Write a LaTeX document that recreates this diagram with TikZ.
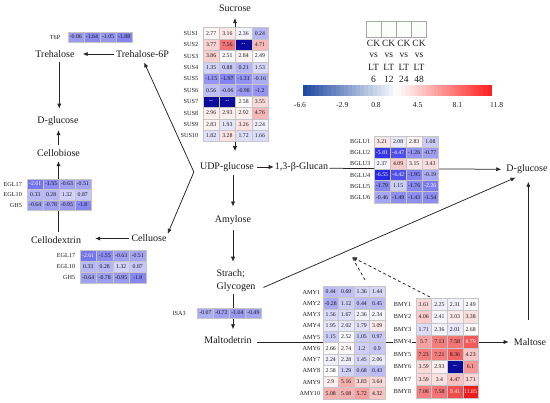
\documentclass[tikz,border=0pt]{standalone}
\usepackage{fontspec}
\setmainfont{Liberation Serif}
\usetikzlibrary{arrows.meta}
\definecolor{hblue}{HTML}{2626E6}
\definecolor{hred}{HTML}{EC1C1C}
\definecolor{hdark}{HTML}{0C0C9C}
\definecolor{lblue}{HTML}{1A46A0}
\definecolor{lred}{HTML}{FF1E1E}
\definecolor{arrc}{HTML}{2B2222}
\definecolor{txt}{HTML}{1A1A1A}
\newcounter{hcnt}
\def\hdash{--}
\newcommand\hcell[5]{%
  \stepcounter{hcnt}%
  \edef\hval{#5}%
  \ifx\hval\hdash
    \node[cellbox, fill=hdark, text=white, minimum width=#3, minimum height=#4] (c\thehcnt) at ({#1},{#2}) {{-}{-}};%
  \else
    \pgfmathsetmacro\hv{#5}%
    \pgfmathsetmacro\tb{100*pow(max(0.001,min(1,(2.6-\hv)/9.2)),0.8)}%
    \pgfmathsetmacro\tr{100*pow(max(0.001,min(1,(\hv-2.6)/9.2)),0.8)}%
    \ifdim\hv pt<2.6pt \colorlet{cc}{hblue!\tb!white}\else\colorlet{cc}{hred!\tr!white}\fi
    \def\tc{txt}%
    \ifdim\hv pt<-2.2pt \def\tc{white}\fi
    \ifdim\hv pt>8.5pt \def\tc{white}\fi
    \node[cellbox, fill=cc, text=\tc, minimum width=#3, minimum height=#4] (c\thehcnt) at ({#1},{#2}) {#5};%
  \fi}
\newcommand\hrow[6]{%
  \stepcounter{hcnt}%
  \node[hlab] (l\thehcnt) at ({#1-\lgap},{#2}) {#5};%
  \foreach \vv [count=\ii] in {#6} {\hcell{#1+(\ii-0.5)*#3}{#2}{#3}{#4}{\vv}}%
}
\begin{document}
\begin{tikzpicture}[x=1pt,y=-1pt,
  lbl/.style={font=\fontsize{10}{12}\selectfont, inner sep=1pt, text=txt},
  arr/.style={-{Latex[length=5pt,width=4.2pt]}, line width=0.75pt, draw=arrc},
  cellbox/.style={draw=gray!45, line width=0.3pt, inner sep=0pt, font=\fontsize{5.8}{6}\selectfont},
  hlab/.style={font=\fontsize{6.2}{7}\selectfont, inner sep=0.6pt, anchor=east, text=txt, fill=white},
  legtxt/.style={font=\fontsize{9.5}{11}\selectfont, inner sep=0pt, text=txt},
  ticktxt/.style={font=\fontsize{7.6}{9}\selectfont, inner sep=0pt, text=txt},
]
\fill[white] (0,0) rectangle (550,403);
\useasboundingbox (0,0) rectangle (550,403);

% ---------- main nodes ----------
\node[lbl] (sucrose) at (235,8) {Sucrose};
\node[lbl] (treh) at (55,54) {Trehalose};
\node[lbl] (t6p) at (142.5,54) {Trehalose-6P};
\node[lbl] (dgl1) at (58,121.5) {D-glucose};
\node[lbl] (cellob) at (58.5,153) {Cellobiose};
\node[lbl] (celludex) at (56,240) {Cellodextrin};
\node[lbl] (cellu) at (149,238.5) {Celluose};
\node[lbl] (udp) at (227,167) {UDP-glucose};
\node[lbl] (glucan) at (301.5,167) {1,3-β-Glucan};
\node[lbl] (amylose) at (233,220) {Amylose};
\node[lbl, align=left] (starch) at (236,281) {Strach;\\[1pt]Glycogen};
\node[lbl] (malto) at (228,340) {Maltodetrin};
\node[lbl] (dgl2) at (527,169) {D-glucose};
\node[lbl] (maltose) at (530,342) {Maltose};

\coordinate (vtx) at ([shift={(-5,5)}]udp.west);
\coordinate (apex) at (352,257);

% ---------- connectors ----------
\draw[arr, shorten <=1pt, shorten >=7pt] (t6p.west) -- (treh.east);
\draw[arr, shorten <=3pt, shorten >=7pt] ([xshift=4.3pt]treh.south) -- ([xshift=1.3pt]dgl1.north);
\draw[arr, shorten <=3.5pt, shorten >=3pt] (cellob.north) -- (cellob.north |- dgl1.south);
\draw[arr, shorten <=3.5pt, shorten >=3.5pt] (celludex.north -| cellob.north) -- (cellob.south);
\draw[arr, shorten <=1pt, shorten >=13pt] (cellu.west) -- (cellu.west -| celludex.east);
\draw[arr, shorten >=4pt] (vtx) -- (t6p.south);
\draw[arr] (vtx) -- (cellu.north east);
\draw[arr, shorten <=2pt] (udp.east) -- (glucan.west);
\draw[arr, shorten >=4pt] ([yshift=-1.3pt]glucan.east) -- ([yshift=-0.3pt]dgl2.west);
\draw[arr, {Latex[length=5pt,width=4.2pt]}-{Latex[length=5pt,width=4.2pt]}, shorten <=5.5pt, shorten >=10pt] (sucrose.south) -- (sucrose.south |- udp.north);
\draw[arr, shorten <=2.4pt, shorten >=7.7pt] (udp.south -| amylose.north) -- (amylose.north);
\draw[arr, shorten <=4.4pt, shorten >=7pt] (amylose.south) -- (amylose.south |- starch.north);
\draw[arr, shorten <=1pt, shorten >=6pt] (starch.south -| amylose.south) -- (malto.north -| amylose.south);
\draw[arr, shorten <=2pt, shorten >=7pt] ([shift={(5,-5)}]starch.south east) -- ([xshift=-5pt]dgl2.south);
\draw[arr, shorten <=4pt, shorten >=4pt] ([yshift=-2pt]malto.east) -- (maltose.west);
\draw[arr, shorten <=17.5pt, shorten >=7pt] ([xshift=-1.7pt]maltose.north) -- ([xshift=-1.7pt]maltose.north |- dgl2.south);
\draw[arrc, line width=0.75pt, dash pattern=on 3pt off 2.5pt] (365,280) -- (apex);
\draw[arr, dash pattern=on 3pt off 2.5pt] (430,297) -- (apex);

% ---------- heatmaps ----------
\def\lgap{6.7}
\hrow{67.7}{37}{16.15}{10.6}{T6P}{-0.86,-1.64,-1.05,-1.88}

\def\lgap{4}
\hrow{203}{33.3}{16.25}{11.4}{SUS1}{2.77,3.16,2.36,0.24}
\hrow{203}{44.7}{16.25}{11.4}{SUS2}{3.77,7.56,--,4.71}
\hrow{203}{56.1}{16.25}{11.4}{SUS3}{3.86,2.51,2.84,2.49}
\hrow{203}{67.5}{16.25}{11.4}{SUS4}{1.35,0.88,0.21,1.53}
\hrow{203}{78.9}{16.25}{11.4}{SUS5}{-1.15,-1.97,-1.31,-0.16}
\hrow{203}{90.3}{16.25}{11.4}{SUS6}{0.56,-0.06,-0.98,-1.2}
\hrow{203}{101.7}{16.25}{11.4}{SUS7}{--,--,2.58,3.55}
\hrow{203}{113.1}{16.25}{11.4}{SUS8}{2.96,2.93,2.92,4.76}
\hrow{203}{124.5}{16.25}{11.4}{SUS9}{2.83,1.93,3.26,2.24}
\hrow{203}{135.9}{16.25}{11.4}{SUS10}{1.82,3.28,1.72,1.66}

\def\lgap{3}
\hrow{374}{141.7}{16.1}{11.1}{BGLU1}{3.21,2.08,2.83,1.08}
\hrow{374}{152.8}{16.1}{11.1}{BGLU2}{-5.81,-4.47,-1.26,-0.77}
\hrow{374}{163.9}{16.1}{11.1}{BGLU3}{2.37,4.09,3.15,3.43}
\hrow{374}{175.0}{16.1}{11.1}{BGLU4}{-6.55,-4.42,-1.95,-0.19}
\hrow{374}{186.1}{16.1}{11.1}{BGLU5}{-1.79,1.15,-1.76,-2.26}
\hrow{374}{197.2}{16.1}{11.1}{BGLU6}{-0.46,-1.49,-1.43,-1.54}

\def\lgap{4.6}
\hrow{27.3}{184}{15.85}{10.5}{EGL17}{-2.61,-1.55,-0.63,-0.51}
\hrow{27.3}{194.5}{15.85}{10.5}{EGL10}{0.33,0.28,1.32,0.87}
\hrow{27.3}{205}{15.85}{10.5}{GH5}{-0.64,-0.78,-0.95,-1.8}

\def\lgap{4}
\hrow{80}{255.5}{16.5}{11}{EGL17}{-2.61,-1.55,-0.63,-0.51}
\hrow{80}{266.5}{16.5}{11}{EGL10}{0.33,0.28,1.32,0.87}
\hrow{80}{277.5}{16.5}{11}{GH5}{-0.64,-0.78,-0.95,-1.8}

\def\lgap{11}
\hrow{197.5}{313}{16}{10.5}{ISA3}{-0.07,-0.72,-1.04,-0.49}

\def\lgap{2}
\hrow{323}{292}{15.5}{11.25}{AMY1}{0.44,0.69,1.36,1.44}
\hrow{323}{303.25}{15.5}{11.25}{AMY2}{-0.28,1.12,0.44,0.45}
\hrow{323}{314.5}{15.5}{11.25}{AMY3}{1.56,1.67,2.36,2.34}
\hrow{323}{325.75}{15.5}{11.25}{AMY4}{1.95,2.02,1.79,3.09}
\hrow{323}{337}{15.5}{11.25}{AMY5}{1.15,2.52,1.05,0.97}
\hrow{323}{348.25}{15.5}{11.25}{AMY6}{2.66,2.74,1.2,0.9}
\hrow{323}{359.5}{15.5}{11.25}{AMY7}{2.24,2.28,1.45,2.06}
\hrow{323}{370.75}{15.5}{11.25}{AMY8}{2.58,1.29,0.68,0.43}
\hrow{323}{382}{15.5}{11.25}{AMY9}{2.9,5.16,3.83,3.64}
\hrow{323}{393.25}{15.5}{11.25}{AMY10}{5.08,5.08,5.72,4.32}

\def\lgap{4}
\hrow{416}{304.3}{15.6}{12.5}{BMY1}{3.61,2.25,2.31,2.49}
\hrow{416}{316.8}{15.6}{12.5}{BMY2}{4.06,2.41,3.03,3.38}
\hrow{416}{329.3}{15.6}{12.5}{BMY3}{1.71,2.36,2.01,2.68}
\hrow{416}{341.8}{15.6}{12.5}{BMY4}{5.7,7.13,7.58,8.79}
\hrow{416}{354.3}{15.6}{12.5}{BMY5}{7.23,7.21,8.36,4.23}
\hrow{416}{366.8}{15.6}{12.5}{BMY6}{3.59,2.93,--,6.1}
\hrow{416}{379.3}{15.6}{12.5}{BMY7}{3.59,3.4,4.47,3.71}
\hrow{416}{391.8}{15.6}{12.5}{BMY8}{7.06,7.58,9.41,11.85}

% ---------- legend ----------
\foreach \k [count=\j] in {6,12,24,48} {
  \node[draw=gray!70, fill=green!2, line width=0.5pt, minimum width=15.2, minimum height=15.6, inner sep=0pt] (lgbox\j) at ({366+(\j-0.5)*15.17},29.5) {};
  \node[legtxt] (lgck\j) at ({366+(\j-0.5)*15.17},43.3) {CK};
  \node[legtxt] (lgvs\j) at ({366+(\j-0.5)*15.17},55) {vs};
  \node[legtxt] (lglt\j) at ({366+(\j-0.5)*15.17},67.7) {LT};
  \node[legtxt] (lgn\j) at ({366+(\j-0.5)*15.17},79.3) {\k};
}
\foreach \k in {0,...,45} {
  \pgfmathsetmacro\lv{-6.6+(\k+0.5)*0.4}
  \pgfmathsetmacro\lb{100*max(0,min(1,(2.6-\lv)/9.2))}
  \pgfmathsetmacro\lr{100*max(0,min(1,(\lv-2.6)/9.2))}
  \ifdim\lv pt<2.6pt \colorlet{lc}{lblue!\lb!white}\else\colorlet{lc}{lred!\lr!white}\fi
  \fill[lc] ({302.7+\k*4.109},85) rectangle ({302.7+(\k+1)*4.109+0.3},96);
}
\node[ticktxt] (tk1) at (300,105) {-6.6};
\node[ticktxt] (tk2) at (342.3,105) {-2.9};
\node[ticktxt] (tk3) at (376,105) {0.8};
\node[ticktxt] (tk4) at (417.7,105) {4.5};
\node[ticktxt] (tk5) at (457.3,105) {8.1};
\node[ticktxt] (tk6) at (496.7,105) {11.8};
\end{tikzpicture}
\end{document}
